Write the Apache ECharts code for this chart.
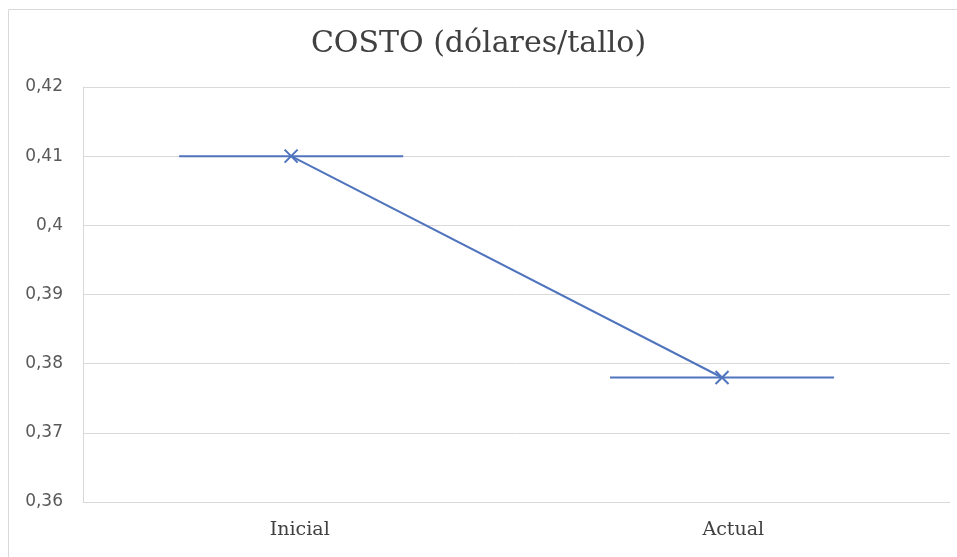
<!DOCTYPE html>
<html>
<head>
<meta charset="utf-8">
<script src="https://cdn.jsdelivr.net/npm/echarts@6/dist/echarts.min.js"></script>
<style>
  html, body { margin: 0; padding: 0; background: #fff; }
  #chart { width: 957px; height: 557px; }
</style>
</head>
<body>
<div id="chart"></div>
<script>
// datos del gráfico
const categorias = ['Inicial', 'Actual'];
const costo = [0.41, 0.378];
const yTicks = [0.36, 0.37, 0.38, 0.39, 0.40, 0.41, 0.42];

const azul = '#4f74bd';
const mitadBarra = 0.26; // media anchura de la barra horizontal (en unidades de categoría)

const chart = echarts.init(document.getElementById('chart'));

// barras horizontales alrededor de cada punto
const barras = costo.map((v, i) => ({
  type: 'line',
  xAxisIndex: 1,
  data: [[i - mitadBarra, v], [i + mitadBarra, v]],
  symbol: 'none',
  lineStyle: { color: azul, width: 2 },
  z: 2,
  silent: true
}));

const option = {
  animation: false,
  title: {
    text: 'COSTO (dólares/tallo)',
    left: 'center',
    top: 24,
    textStyle: {
      fontFamily: 'DejaVu Serif',
      fontWeight: 'normal',
      fontSize: 30,
      color: '#404040'
    }
  },
  graphic: [{
    type: 'rect',
    shape: { x: 8.5, y: 9.5, width: 960, height: 560 },
    style: { fill: 'none', stroke: '#d9d9d9', lineWidth: 1 },
    silent: true
  }],
  grid: { left: 83, right: 7, top: 87, bottom: 55 },
  xAxis: [{
    type: 'category',
    data: categorias,
    boundaryGap: true,
    axisLine: { lineStyle: { color: '#d9d9d9', width: 1 } },
    axisTick: { show: false },
    axisLabel: {
      margin: 19,
      fontFamily: 'DejaVu Serif',
      fontSize: 19,
      color: '#404040'
    }
  }, {
    type: 'value',
    min: -0.483,
    max: 1.529,
    show: false,
    splitLine: { show: false }
  }],
  yAxis: {
    type: 'value',
    min: yTicks[0],
    max: yTicks[yTicks.length - 1],
    interval: 0.01,
    axisLine: { show: true, onZero: false, lineStyle: { color: '#d9d9d9' } },
    axisTick: { show: false },
    splitLine: { lineStyle: { color: '#d9d9d9', width: 1 } },
    axisLabel: {
      margin: 20,
      fontFamily: 'DejaVu Sans',
      fontSize: 17,
      color: '#595959',
      formatter: v => String(+v.toFixed(2)).replace('.', ',')
    }
  },
  series: [
    ...barras,
    {
      type: 'line',
      xAxisIndex: 1,
      data: costo.map((v, i) => [i, v]),
      symbol: 'path://M0,0L10,10M10,0L0,10',
      symbolSize: 13,
      itemStyle: { color: 'none', borderColor: azul, borderWidth: 2 },
      lineStyle: { color: azul, width: 2 },
      z: 3
    }
  ]
};

chart.setOption(option);
</script>
</body>
</html>
